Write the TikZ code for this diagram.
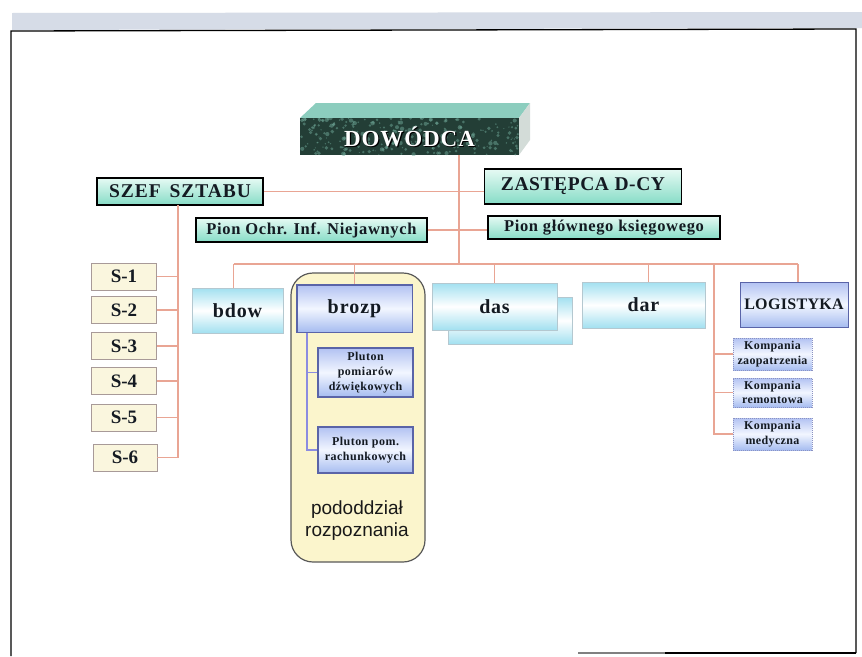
\documentclass[tikz,border=0pt]{standalone}
\usepackage{fontspec}
\setmainfont{Liberation Serif}
\setsansfont{Liberation Sans}
\newcommand\trk[1]{\addfontfeature{LetterSpace=#1}}
\newcommand\fsz[2]{\fontsize{#1}{#2}\selectfont}

\definecolor{linkc}{HTML}{E9A594}
\definecolor{blinkc}{HTML}{8C8CE0}
\definecolor{ink}{HTML}{141A22}
\definecolor{mintT}{HTML}{E6FAF4}
\definecolor{mintB}{HTML}{86DCC6}
\definecolor{creamF}{HTML}{FAF6DE}
\definecolor{creamD}{HTML}{A89A98}
\definecolor{cyanT}{HTML}{A2E0F0}
\definecolor{cyanD}{HTML}{B4C8D0}
\definecolor{blueT}{HTML}{B2C2F2}
\definecolor{blueM}{HTML}{F2F6FF}
\definecolor{blueB}{HTML}{A6BCF0}
\definecolor{blueD}{HTML}{5A64A8}
\definecolor{yelF}{HTML}{FBF5CC}
\definecolor{bandc}{HTML}{D6DCE7}
\definecolor{dowF}{HTML}{233E36}
\definecolor{dowS}{HTML}{6FA898}
\definecolor{dowTop}{HTML}{8CCDBE}
\definecolor{dowSide}{HTML}{D3DCD8}

\begin{document}
\begin{tikzpicture}[x=1pt,y=-1pt,
  link/.style={draw=linkc, line width=1.7},
  blink/.style={draw=blinkc, line width=1.9},
  box/.style={inner sep=0pt, align=center, text=ink},
  mint/.style={box, draw=black, line width=1.6, top color=mintT, bottom color=mintB},
  cream/.style={box, draw=creamD, line width=0.9, fill=creamF, minimum width=65, minimum height=27, font=\bfseries\fsz{19}{19}},
  cyanbox/.style={box, draw=cyanD, line width=0.6, top color=cyanT, bottom color=cyanT, middle color=white, font=\bfseries\fsz{20}{20}\trk{4}},
  bluebox/.style={box, draw=blueD, line width=1, top color=blueT, bottom color=blueB, middle color=blueM},
  kbox/.style={bluebox, draw=blueD!70, densely dotted, line width=0.8, minimum width=79, font=\bfseries\fsz{12}{14.5}\trk{3}},
  pbox/.style={bluebox, line width=1.1, minimum width=95, font=\bfseries\fsz{12}{15}\trk{4}},
]
\useasboundingbox (0,0) rectangle (862,656);
\fill[white] (0,0) rectangle (862,656);

% page band and frame
\fill[bandc] (12,13) -- (862,12) -- (862,28) -- (12,30) -- cycle;
\draw[line width=1.3] (11,656) -- (11,31) -- (856,29) -- (856,653);
\draw[line width=1.3, gray] (578,653) -- (665,653);
\draw[line width=1.3] (665,653) -- (856,653);

% commander block: 3D slab with marbled front
\fill[dowTop] (300,118) -- (316,103) -- (530,103) -- (519,118) -- cycle;
\fill[dowSide] (519,118) -- (530,103) -- (530,140) -- (519,155) -- cycle;
\begin{scope}
  \clip (300,118) rectangle (519,155);
  \fill[dowF] (300,118) rectangle (519,155);
  \pgfmathsetseed{42}
  \foreach \i in {1,...,260}{
    \pgfmathsetmacro\px{300+219*rnd}
    \pgfmathsetmacro\py{118+37*rnd}
    \pgfmathsetmacro\pr{0.5+1.7*rnd}
    \fill[dowS, opacity=0.5] (\px,\py) circle[radius=\pr];
  }
\end{scope}
\node[box, minimum width=219, minimum height=37] (dow) at (409.5,136.5) {};
\node[font=\bfseries\fsz{23}{23}\trk{4}, text=black] at ([shift={(1.2,1.2)}]dow.center) {DOWÓDCA};
\node[font=\bfseries\fsz{23}{23}\trk{4}, text=white] at (dow.center) {DOWÓDCA};

% staff row
\node[mint, minimum width=166, minimum height=27, font=\bfseries\fsz{19.5}{19.5}\trk{5}] (szef) at (180,191.5) {SZEF\hspace{3pt} SZTABU};
\node[mint, minimum width=197, minimum height=35, font=\bfseries\fsz{19.5}{19.5}\trk{3}] (zast) at (583,186.5) {ZASTĘPCA D-CY};
\node[mint, minimum width=231, minimum height=24, font=\bfseries\fsz{16.5}{16.5}\trk{4}] (poin) at (311.5,230) {Pion Ochr. Inf. Niejawnych};
\node[mint, minimum width=232, minimum height=23, font=\bfseries\fsz{16.5}{16.5}\trk{4}] (pgk) at (604,227.5) {Pion głównego księgowego};

% section boxes S-1 ... S-6
\node[cream] (s1) at (124,276.5) {S-1};
\node[cream] (s2) at (124,310) {S-2};
\node[cream] (s3) at (124,346) {S-3};
\node[cream] (s4) at (124,381) {S-4};
\node[cream] (s5) at (124,417.5) {S-5};
\node[cream, minimum width=64] (s6) at (125,457.5) {S-6};

% reconnaissance sub-unit container
\node[box, draw=black!65, line width=1.2, fill=yelF, rounded corners=22, minimum width=134, minimum height=289] (pod) at (358,417.5) {};
\node[font=\sffamily\fsz{19}{22}, text=black!90, align=center] (podl) at (357,521) {pododdział\\rozpoznania};

% trunk and bus coordinates
\coordinate (trunk) at (459,264);
\coordinate (sv) at (178,205);
\coordinate (lv) at (714,264);

% connectors from the commander
\draw[link] (dow.south -| trunk) -- (trunk);
\draw[link] (szef.east) -- (szef.east -| zast.west);
\draw[link] (poin.east) -- (poin.east -| pgk.west);

% departments on the main bus
\node[cyanbox, minimum width=91, minimum height=45] (bdow) at (237.5,310.5) {bdow};
\node[bluebox, minimum width=115, minimum height=47, font=\bfseries\fsz{20}{20}\trk{5}] (brozp) at (354.5,308.5) {brozp};
\node[cyanbox, minimum width=124, minimum height=47] (dasb) at (510,320.5) {};
\node[cyanbox, minimum width=125, minimum height=47] (das) at (494.5,306.5) {das};
\node[cyanbox, minimum width=123, minimum height=46] (dar) at (643.5,305) {dar};
\node[bluebox, minimum width=108, minimum height=45, font=\bfseries\fsz{16}{16}\trk{2}] (logi) at (794,304.5) {LOGISTYKA};

\draw[link] ([xshift=-4]bdow.north |- trunk) -- ([xshift=4]logi.north |- trunk);
\draw[link] ([xshift=-4]bdow.north) -- ([xshift=-4]bdow.north |- trunk);
\draw[link] (brozp.north) -- (brozp.north |- trunk);
\draw[link] (das.north) -- (das.north |- trunk);
\draw[link] ([xshift=5]dar.north) -- ([xshift=5]dar.north |- trunk);
\draw[link] ([xshift=4]logi.north) -- ([xshift=4]logi.north |- trunk);

% chief of staff branch
\draw[link] (sv) |- (s6.east);
\foreach \s in {s1,s2,s3,s4,s5}{\draw[link] (sv |- \s.east) -- (\s.east);}

% logistics companies
\node[kbox, minimum height=32] (kzao) at (772.5,354) {Kompania\\zaopatrzenia};
\node[kbox, minimum height=29] (krem) at (772.5,392.5) {Kompania\\remontowa};
\node[kbox, minimum height=32] (kmed) at (772.5,434) {Kompania\\medyczna};
\draw[link] (lv) |- (kmed.west);
\draw[link] (lv |- kzao.west) -- (kzao.west);
\draw[link] (lv |- krem.west) -- (krem.west);

% platoons under brozp
\node[pbox, minimum height=49] (pl1) at (365.5,372.5) {Pluton\\pomiarów\\dźwiękowych};
\node[pbox, minimum height=46] (pl2) at (365.5,450) {Pluton pom.\\rachunkowych};
\coordinate (bv) at (307,332);
\draw[blink] (bv) |- (pl2.west);
\draw[blink] (bv |- pl1.west) -- (pl1.west);
\draw[blueD, line width=1] (brozp.south west) rectangle (brozp.north east);
\end{tikzpicture}
\end{document}
